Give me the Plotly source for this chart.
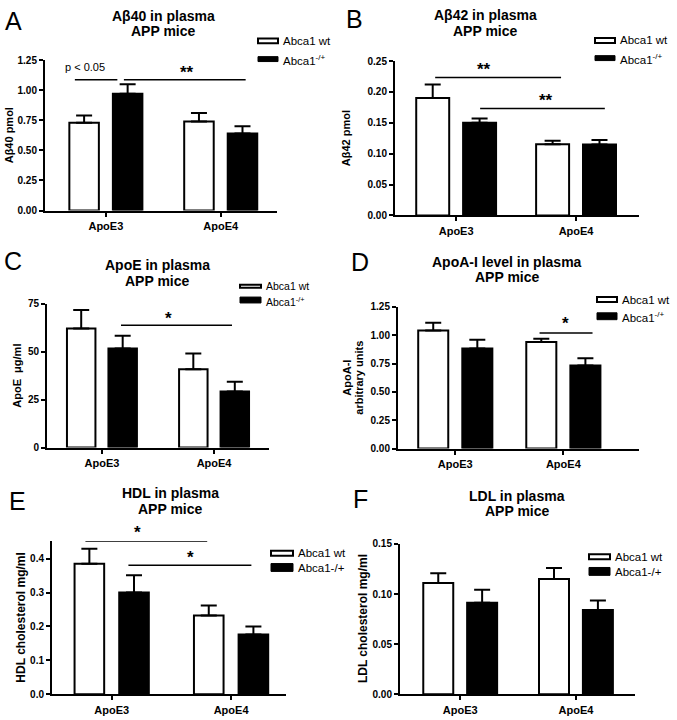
import plotly.graph_objects as go

W, H = 677, 720
FONT = "Liberation Sans, Arial, sans-serif"

categories = ["ApoE3", "ApoE4"]
series_names = ["Abca1 wt", "Abca1<sup>-/+</sup>"]
series_names_plain = ["Abca1 wt", "Abca1-/+"]

# Panel A: Abeta40 (pmol)
a_wt_mean = [0.73, 0.74]
a_wt_sem = [0.06, 0.07]
a_het_mean = [0.97, 0.64]
a_het_sem = [0.08, 0.06]
# Panel B: Abeta42 (pmol)
b_wt_mean = [0.190, 0.1155]
b_wt_sem = [0.022, 0.0055]
b_het_mean = [0.150, 0.115]
b_het_sem = [0.007, 0.007]
# Panel C: ApoE (ug/ml)
c_wt_mean = [62.2, 40.9]
c_wt_sem = [9.7, 8.2]
c_het_mean = [51.7, 29.3]
c_het_sem = [6.7, 5.1]
# Panel D: ApoA-I (arbitrary units)
d_wt_mean = [1.042, 0.940]
d_wt_sem = [0.069, 0.029]
d_het_mean = [0.883, 0.732]
d_het_sem = [0.078, 0.064]
# Panel E: HDL cholesterol (mg/ml)
e_wt_mean = [0.3845, 0.232]
e_wt_sem = [0.0445, 0.030]
e_het_mean = [0.300, 0.176]
e_het_sem = [0.051, 0.0235]
# Panel F: LDL cholesterol (mg/ml)
f_wt_mean = [0.111, 0.115]
f_wt_sem = [0.0097, 0.011]
f_het_mean = [0.0913, 0.0841]
f_het_sem = [0.013, 0.0095]

# significance brackets: (x0, x1, y, label, label_x, label_y)
a_sig = [(-0.27, 0.10, 1.087, "p < 0.05", -0.18, 1.196), (0.157, 1.217, 1.087, "**", 0.71, 1.15)]
b_sig = [(-0.175, 0.875, 0.2235, "**", 0.23, 0.236), (0.20, 1.24, 0.173, "**", 0.75, 0.1855)]
c_sig = [(0.17, 1.16, 63.9, "*", 0.59, 67.5)]
d_sig = [(0.78, 1.27, 1.019, "*", 1.02, 1.10)]
e_sig = [(-0.22, 0.80, 0.452, "*", 0.22, 0.478), (0.14, 1.17, 0.380, "*", 0.66, 0.403)]
f_sig = []

panels = [
    dict(letter="A", title=["Aβ40 in plasma", "APP mice"], ytitle=["Aβ40 pmol"],
         wt=(a_wt_mean, a_wt_sem), het=(a_het_mean, a_het_sem), sig=a_sig,
         px=(45, 277), py=(55, 208), yr=(0, 1.25), dtick=0.25, fmt=".2f", xr=(-0.53, 1.49),
         bw=0.257, g=0.061, title_xy=(163, 10, 25), letter_xy=(13, 15), ytitle_x=[9],
         leg=(258, 278, 35.5, 54, 11.5, 7, 5), names=series_names),
    dict(letter="B", title=["Aβ42 in plasma", "APP mice"], ytitle=["Aβ42 pmol"],
         wt=(b_wt_mean, b_wt_sem), het=(b_het_mean, b_het_sem), sig=b_sig,
         px=(395, 639), py=(56, 213), yr=(0, 0.25), dtick=0.05, fmt=".2f", xr=(-0.51, 1.525),
         bw=0.275, g=0.058, title_xy=(485, 9, 25), letter_xy=(354, 13), ytitle_x=[346],
         leg=(595, 615, 35, 53, 11.5, 7, 5), names=series_names),
    dict(letter="C", title=["ApoE in plasma", "APP mice"], ytitle=["ApoE  μg/ml"],
         wt=(c_wt_mean, c_wt_sem), het=(c_het_mean, c_het_sem), sig=c_sig,
         px=(47, 269), py=(303, 449), yr=(0, 75), dtick=25, fmt="d", xr=(-0.49, 1.49),
         bw=0.254, g=0.058, title_xy=(157, 263, 280), letter_xy=(13, 259), ytitle_x=[17],
         leg=(240, 261, 285, 299, 10.5, 5, 6), names=series_names),
    dict(letter="D", title=["ApoA-I level in plasma", "APP mice"], ytitle=["ApoA-I", "arbitrary units"],
         wt=(d_wt_mean, d_wt_sem), het=(d_het_mean, d_het_sem), sig=d_sig,
         px=(398, 639), py=(306, 450), yr=(0, 1.25), dtick=0.25, fmt=".2f", xr=(-0.53, 1.70),
         bw=0.278, g=0.065, title_xy=(507, 260, 276), letter_xy=(360, 260), ytitle_x=[347, 359],
         leg=(597, 617, 298.5, 315.5, 11.5, 7, 7), names=series_names),
    dict(letter="E", title=["HDL in plasma", "APP mice"], ytitle=["HDL cholesterol mg/ml"],
         wt=(e_wt_mean, e_wt_sem), het=(e_het_mean, e_het_sem), sig=e_sig,
         px=(52, 286), py=(544, 700), yr=(0, 0.452), dtick=0.1, fmt=".1f", xr=(-0.50, 1.46),
         bw=0.248, g=0.063, title_xy=(170, 495, 512), letter_xy=(17, 503), ytitle_x=[21],
         leg=(271, 293, 556.5, 571, 11.5, 7, 8), names=series_names_plain),
    dict(letter="F", title=["LDL in plasma", "APP mice"], ytitle=["LDL cholesterol mg/ml"],
         wt=(f_wt_mean, f_wt_sem), het=(f_het_mean, f_het_sem), sig=f_sig,
         px=(400, 635), py=(547, 700), yr=(0, 0.15), dtick=0.05, fmt=".2f", xr=(-0.52, 1.51),
         bw=0.259, g=0.06, title_xy=(517, 498, 514), letter_xy=(360, 501), ytitle_x=[363],
         leg=(589, 610, 560, 575, 11.5, 7, 8), names=series_names_plain),
]

fig = go.Figure()
shapes = []
annotations = []
layout_axes = {}
xs = [0, 1]

def fx(px):
    return px / W

def fy(py):
    return 1 - py / H

for i, p in enumerate(panels):
    n = i + 1
    xa = "x" if n == 1 else f"x{n}"
    ya = "y" if n == 1 else f"y{n}"
    xkey = "xaxis" if n == 1 else f"xaxis{n}"
    ykey = "yaxis" if n == 1 else f"yaxis{n}"
    bw, g = p["bw"], p["g"]
    for k, (key, color, off) in enumerate([("wt", "white", -g - bw), ("het", "black", g)]):
        mean, sem = p[key]
        fig.add_trace(go.Bar(
            x=xs, y=mean, width=[bw, bw], offset=[off, off],
            marker=dict(color=color, line=dict(color="black", width=2)),
            error_y=dict(type="data", symmetric=False, array=sem, arrayminus=[0, 0],
                         color="black", thickness=2, width=8),
            xaxis=xa, yaxis=ya, showlegend=False, hoverinfo="skip"))
    layout_axes[xkey] = dict(
        domain=[fx(p["px"][0]), fx(p["px"][1])], range=list(p["xr"]), anchor=ya,
        tickvals=xs, ticktext=categories, ticks="outside", ticklen=4, tickwidth=2,
        tickcolor="black", showline=True, linewidth=2, linecolor="black",
        showgrid=False, zeroline=False, fixedrange=True,
        tickfont=dict(family=FONT, size=11, color="black", weight="bold"))
    tickformat = ".0f" if p["fmt"] == "d" else p["fmt"]
    layout_axes[ykey] = dict(
        domain=[fy(p["py"][1]), fy(p["py"][0])], range=list(p["yr"]), anchor=xa,
        dtick=p["dtick"], tick0=0, tickformat=tickformat, ticks="outside", ticklen=4,
        tickwidth=2, tickcolor="black", showline=True, linewidth=2, linecolor="black",
        showgrid=False, zeroline=False, fixedrange=True,
        tickfont=dict(family=FONT, size=10, color="black", weight="bold"))
    ytop = p["yr"][1]
    # significance
    for (x0, x1, yv, lab, lx, ly) in p["sig"]:
        shapes.append(dict(type="line", xref=xa, yref=ya, x0=x0, x1=x1, y0=yv, y1=yv,
                           line=dict(color="black", width=1.5)))
        if lab.startswith("p"):
            annotations.append(dict(xref=xa, yref=f"{ya} domain", x=lx, y=ly / ytop, text=lab,
                                    showarrow=False, yanchor="middle",
                                    font=dict(family=FONT, size=11, color="black")))
        else:
            annotations.append(dict(xref=xa, yref=f"{ya} domain", x=lx, y=ly / ytop,
                                    text="<b>" + lab + "</b>",
                                    showarrow=False, yanchor="middle",
                                    font=dict(family=FONT, size=17, color="black")))
    # title (two lines)
    tx, ty1, ty2 = p["title_xy"]
    for txt, tyy in zip(p["title"], (ty1, ty2)):
        annotations.append(dict(xref="paper", yref="paper", x=fx(tx), y=fy(tyy), text="<b>" + txt + "</b>",
                                showarrow=False, xanchor="center", yanchor="middle",
                                font=dict(family=FONT, size=14, color="black")))
    lx, ly = p["letter_xy"]
    annotations.append(dict(xref="paper", yref="paper", x=fx(lx), y=fy(ly), text=p["letter"],
                            showarrow=False, xanchor="center", yanchor="middle",
                            font=dict(family=FONT, size=25, color="black")))
    # y titles
    ycen = (p["py"][0] + p["py"][1]) / 2
    tsize = 12 if n >= 5 else 11
    for t, tx_ in zip(p["ytitle"], p["ytitle_x"]):
        annotations.append(dict(xref="paper", yref="paper", x=fx(tx_), y=fy(ycen), text="<b>" + t + "</b>",
                                showarrow=False, textangle=-90, xanchor="center", yanchor="middle",
                                font=dict(family=FONT, size=tsize, color="black")))
    # legend
    bx0, bx1, y1, y2, lfs, bh1, bh2 = p["leg"]
    shapes.append(dict(type="rect", xref="paper", yref="paper", x0=fx(bx0), x1=fx(bx1),
                       y0=fy(y1 + bh1 / 2 - 1), y1=fy(y1 - bh1 / 2 + 1),
                       fillcolor="white", line=dict(color="black", width=2)))
    shapes.append(dict(type="rect", xref="paper", yref="paper", x0=fx(bx0), x1=fx(bx1),
                       y0=fy(y2 + bh2 / 2), y1=fy(y2 - bh2 / 2),
                       fillcolor="black", line=dict(color="black", width=1)))
    annotations.append(dict(xref="paper", yref="paper", x=fx(bx1 + 3), y=fy(y1), text=p["names"][0],
                            showarrow=False, xanchor="left", yanchor="middle",
                            font=dict(family=FONT, size=lfs, color="black")))
    annotations.append(dict(xref="paper", yref="paper", x=fx(bx1 + 3), y=fy(y2 + 1), text=p["names"][1],
                            showarrow=False, xanchor="left", yanchor="middle",
                            font=dict(family=FONT, size=lfs, color="black")))

fig.update_layout(
    width=W, height=H, margin=dict(l=0, r=0, t=0, b=0),
    paper_bgcolor="white", plot_bgcolor="white", barmode="overlay",
    shapes=shapes, annotations=annotations, showlegend=False,
    font=dict(family=FONT, color="black"), **layout_axes)

fig.write_html("out.html", config={"displayModeBar": False, "staticPlot": True},
               post_script="document.body.style.margin='0';document.body.style.overflow='hidden';")
